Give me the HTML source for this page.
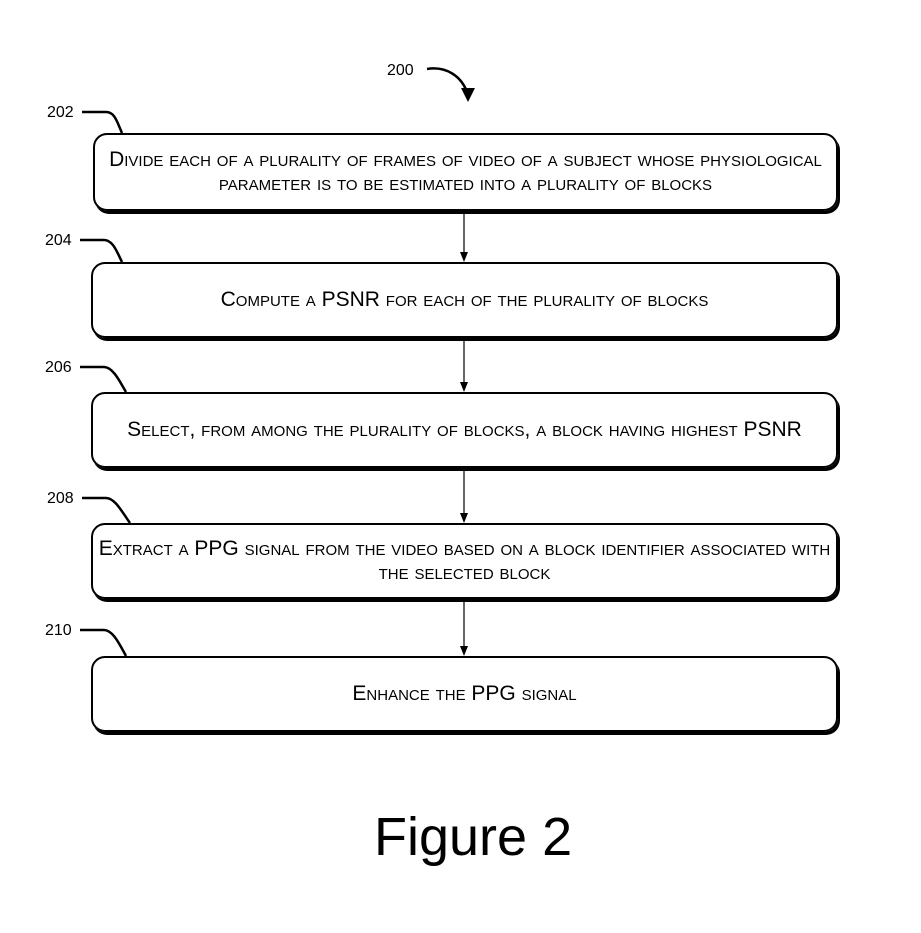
<!DOCTYPE html>
<html><head><style>
body{margin:0;background:#fff;width:921px;height:933px;position:relative;font-family:"Liberation Sans",sans-serif;overflow:hidden}
.b{position:absolute;border:2px solid #000;border-radius:14px;box-shadow:2px 3px 0 #000;display:flex;align-items:center;justify-content:center;text-align:center;font-variant:small-caps;font-size:21px;line-height:24px;color:#000;box-sizing:border-box;white-space:nowrap}
.l{position:absolute;font-size:16px}
</style></head><body>
<svg width="921" height="933" style="position:absolute;left:0;top:0" fill="none" stroke="#000" stroke-width="2">
<path d="M427 69 C445 66 462 75 468 95" stroke-width="2.5"/>
<polygon points="461,88 475,88 468,102" fill="#000" stroke="none"/>
<path d="M82 112 L106 112 C115 112 117 122 122 133" stroke-width="2.5"/>
<path d="M80 240 L104 240 C113 240 117 252 122 262" stroke-width="2.5"/>
<path d="M80 367 L104 367 C113 367 120 382 126 392" stroke-width="2.5"/>
<path d="M82 498 L106 498 C115 498 122 512 130 523" stroke-width="2.5"/>
<path d="M80 630 L104 630 C113 630 120 645 126 656" stroke-width="2.5"/>
<g stroke-width="1.2">
<line x1="464" y1="213" x2="464" y2="254"/><line x1="464" y1="340" x2="464" y2="384"/>
<line x1="464" y1="469" x2="464" y2="515"/><line x1="464" y1="601" x2="464" y2="648"/>
</g>
<g fill="#000" stroke="none">
<polygon points="460,252 468,252 464,262"/><polygon points="460,382 468,382 464,392"/>
<polygon points="460,513 468,513 464,523"/><polygon points="460,646 468,646 464,656"/>
</g>
</svg>
<div class="l" style="left:387px;top:62px">200</div>
<div class="l" style="left:47px;top:104px">202</div>
<div class="l" style="left:45px;top:232px">204</div>
<div class="l" style="left:45px;top:359px">206</div>
<div class="l" style="left:47px;top:490px">208</div>
<div class="l" style="left:45px;top:622px">210</div>
<div class="b" style="left:93px;top:133px;width:745px;height:78px">Divide each of a plurality of frames of video of a subject whose physiological<br>parameter is to be estimated into a plurality of blocks</div>
<div class="b" style="left:91px;top:262px;width:747px;height:76px">Compute a PSNR for each of the plurality of blocks</div>
<div class="b" style="left:91px;top:392px;width:747px;height:76px">Select, from among the plurality of blocks, a block having highest PSNR</div>
<div class="b" style="left:91px;top:523px;width:747px;height:76px">Extract a PPG signal from the video based on a block identifier associated with<br>the selected block</div>
<div class="b" style="left:91px;top:656px;width:747px;height:76px">Enhance the PPG signal</div>
<div style="position:absolute;left:374px;top:806px;font-size:54px">Figure 2</div>
</body></html>
